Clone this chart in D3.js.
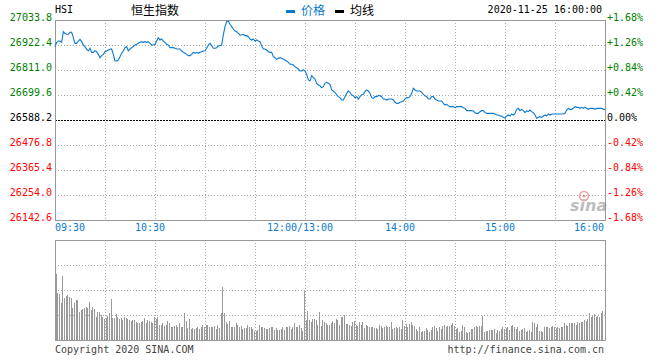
<!DOCTYPE html>
<html><head><meta charset="utf-8">
<script src="https://cdn.jsdelivr.net/npm/d3@7"></script>
<style>body{margin:0;background:#fff}svg{display:block}</style>
</head><body>
<svg id="c" width="660" height="360"></svg>
<script>
const prevClose = 26588.2;
const priceTicks = [27033.8, 26922.4, 26811.0, 26699.6, 26588.2, 26476.8, 26365.4, 26254.0, 26142.6];
const priceTickLabels = ["27033.8","26922.4","26811.0","26699.6","26588.2","26476.8","26365.4","26254.0","26142.6"];
const pctTickLabels = ["+1.68%","+1.26%","+0.84%","+0.42%","0.00%","-0.42%","-0.84%","-1.26%","-1.68%"];
const timeLabels = ["09:30","10:30","12:00/13:00","14:00","15:00","16:00"];
const timeLabelMinutes = [0, 60, 150, 210, 270, 330];
const gridMinutes = [30, 60, 90, 120, 150, 180, 210, 240, 270, 300];

// minute-by-minute index price (0 = 09:30, 150 = 12:00/13:00, 330 = 16:00)
const pricesMorning = [
26915.0,26934.3,26940.2,26940.2,26934.3,26981.8,26974.4,26970.0,26970.0,26978.9,
26978.9,26955.1,26929.8,26929.8,26940.2,26947.7,26937.3,26922.4,26915.0,26903.1,
26895.7,26907.6,26889.7,26889.7,26897.2,26892.7,26880.8,26866.0,26874.9,26880.8,
26892.7,26895.7,26900.1,26903.1,26904.6,26880.8,26851.1,26851.1,26855.6,26870.4,
26885.3,26895.7,26910.5,26915.0,26895.7,26904.6,26910.5,26915.0,26922.4,26925.4,
26929.8,26934.3,26937.3,26934.3,26937.3,26934.3,26937.3,26929.8,26922.4,26922.4,
26925.4,26940.2,26955.1,26944.7,26949.2,26940.2,26934.3,26925.4,26922.4,26910.5,
26910.5,26910.5,26907.6,26904.6,26904.6,26904.6,26895.7,26889.7,26885.3,26880.8,
26874.9,26874.9,26880.8,26889.7,
26885.3,26889.7,26885.3,26889.7,26892.7,26895.7,26895.7,26907.6,26922.4,26929.8,
26919.5,26907.6,26907.6,26910.5,26918.0,26919.5,26922.4,26967.0,27004.1,27026.4,
27029.4,27014.5,27004.1,26993.7,26984.8,26981.8,26974.4,26967.0,26967.0,26970.0,
26964.0,26964.0,26959.6,26949.2,26944.7,26949.2,26940.2,26944.7,26940.2,26937.3,
26919.5,26904.6,26904.6,26900.1,26892.7,26889.7,26889.7,26870.4,26866.0,26858.6,
26863.0,26866.0,26863.0,26858.6,26855.6,26851.1,26845.2,26836.3,26836.3,26833.3,
26825.9,26821.4,26815.5,26806.6,26806.6,26811.0,26806.6
];
const pricesAfternoon = [
26791.7,26766.5,26762.0,26785.8,26776.9,26770.9,26751.6,26744.2,26741.2,26732.3,
26736.8,26751.6,26756.1,26751.6,
26747.1,26721.9,26717.4,26711.5,26699.6,26692.2,26687.7,26677.3,26677.3,26692.2,
26707.0,26717.4,26711.5,26699.6,26696.6,26687.7,26692.2,26681.8,26692.2,26699.6,
26702.6,26714.4,26721.9,26717.4,26707.0,26687.7,26684.7,26692.2,26692.2,26696.6,
26696.6,26692.2,26681.8,26681.8,26677.3,26681.8,26681.8,26681.8,26677.3,26666.9,
26662.4,26662.4,26666.9,26669.9,26672.8,26681.8,26687.7,26687.7,26692.2,26707.0,
26729.3,26721.9,26717.4,26717.4,26717.4,26711.5,26702.6,26696.6,26692.2,26681.8,
26681.8,26692.2,26692.2,26681.8,26677.3,26672.8,26672.8,26672.8,26662.4,26655.0,
26658.0,26652.1,26647.6,26647.6,26647.6,26643.1,26647.6,26647.6,26647.6,26647.6,
26643.1,26640.2,
26629.8,26629.8,26629.8,26629.8,26628.3,26620.9,26617.9,26617.9,26625.3,26629.8,
26629.8,26620.9,26617.9,26617.9,26617.9,26617.9,26617.9,26614.9,26610.5,26610.5,
26606.0,26606.0,26600.1,26595.6,26606.0,26610.5,26606.0,26614.9,26610.5,26617.9,
26635.7,26640.2,26629.8,26635.7,26629.8,26620.9,26629.8,26625.3,26632.8,26625.3,
26620.9,26610.5,26595.6,26600.1,26603.1,26600.1,26606.0,26610.5,26606.0,26614.9,
26610.5,26614.9,26614.9,26614.9,26614.9,26614.9,26614.9,26614.9,26614.9,26617.9,
26632.8,26640.2,26635.7,26635.7,26640.2,26647.6,26644.6,26644.6,26640.2,26644.6,
26640.2,26644.6,26640.2,26635.7,26640.2,26640.2,26640.2,26635.7,26640.2,26640.2,
26640.2,26640.2,26635.7,26635.7
];
const prices = pricesMorning.concat(pricesAfternoon);

// per-minute volume (relative units)
const volumes = [
66,47,46,37,64,42,44,45,43,42,32,37,40,40,28,30,31,32,33,32,38,30,33,31,23,28,28,25,23,
21,22,24,27,41,22,22,26,23,21,22,20,23,22,21,20,19,20,20,18,17,17,18,19,22,17,20,19,18,17,
23,21,23,15,15,17,14,15,19,17,13,13,14,15,13,17,13,13,27,19,12,21,11,12,11,12,13,11,13,15,
13,15,15,13,13,13,14,11,15,12,27,53,27,18,16,19,13,13,13,17,15,13,14,11,12,12,15,13,13,11,
9,9,10,15,13,13,12,11,11,12,13,13,10,12,10,10,11,13,10,13,13,14,11,13,17,13,13,15,12,9,
49,20,29,20,18,21,21,20,15,28,14,20,18,17,15,
15,17,19,17,21,20,15,23,23,25,16,16,15,14,18,19,15,14,18,15,18,12,15,14,13,13,13,12,12,11,
15,14,12,13,14,13,13,18,11,12,13,12,13,11,20,14,16,13,16,18,15,14,11,9,13,8,9,9,12,10,
8,10,13,14,12,9,13,11,14,15,13,14,14,15,17,14,11,12,8,9,15,13,8,7,8,11,11,13,14,13,
14,14,24,8,9,9,10,10,10,11,7,10,9,11,13,11,12,13,10,14,15,13,11,13,9,10,11,12,8,9,
10,8,18,17,13,16,9,9,8,13,13,13,12,13,14,13,12,13,12,13,13,17,15,14,17,17,17,17,15,18,
17,18,18,20,19,21,27,23,24,26,23,24,23,27,29
];
const volumeGrid = [25, 50, 75];

const svg = d3.select("#c");
const mono = "'DejaVu Sans Mono', 'Liberation Mono', monospace";
const L = 55, R = 605, T = 20, B = 220, VT = 240, VB = 340;

const x = d3.scaleLinear().domain([0, 330]).range([L, R]);
const y = d3.scaleLinear().domain([26142.6, 27033.8]).range([B, T]);
const yv = d3.scaleLinear().domain([0, 100]).range([VB, VT]);

const colorOf = v => v > prevClose + 0.01 ? "#008000" : (v < prevClose - 0.01 ? "#ff0000" : "#000");

// grid - price panel
const g = svg.append("g").attr("shape-rendering", "crispEdges");
g.selectAll(".hg").data(priceTicks.filter(v => v !== prevClose && v !== 27033.8 && v !== 26142.6))
  .join("line").attr("x1", L).attr("x2", R)
  .attr("y1", d => Math.round(y(d)) + 0.5).attr("y2", d => Math.round(y(d)) + 0.5)
  .attr("stroke", "#aaa").attr("stroke-dasharray", "1,2");
g.selectAll(".vg").data(gridMinutes).join("line")
  .attr("x1", d => Math.round(x(d)) + 0.5).attr("x2", d => Math.round(x(d)) + 0.5)
  .attr("y1", T).attr("y2", B).attr("stroke", "#aaa").attr("stroke-dasharray", "1,2");
// prev close dashed
g.append("line").attr("x1", L).attr("x2", R)
  .attr("y1", Math.round(y(prevClose)) + 0.5).attr("y2", Math.round(y(prevClose)) + 0.5)
  .attr("stroke", "#000").attr("stroke-dasharray", "2,1");
g.append("rect").attr("x", L + 0.5).attr("y", T + 0.5).attr("width", R - L).attr("height", B - T)
  .attr("fill", "none").attr("stroke", "#999");

// grid - volume panel
g.selectAll(".vhg").data(volumeGrid).join("line").attr("x1", L).attr("x2", R)
  .attr("y1", d => Math.round(yv(d)) + 0.5).attr("y2", d => Math.round(yv(d)) + 0.5)
  .attr("stroke", "#aaa").attr("stroke-dasharray", "1,2");
g.selectAll(".vvg").data(gridMinutes).join("line")
  .attr("x1", d => Math.round(x(d)) + 0.5).attr("x2", d => Math.round(x(d)) + 0.5)
  .attr("y1", VT).attr("y2", VB).attr("stroke", "#aaa").attr("stroke-dasharray", "1,2");

// volume bars
svg.append("g").attr("shape-rendering", "crispEdges").selectAll("rect").data(volumes).join("rect")
  .attr("x", (d, i) => Math.round(x(i + 1)) - 1).attr("width", 1)
  .attr("y", d => Math.round(yv(d))).attr("height", d => VB - Math.round(yv(d)))
  .attr("fill", "#999");
g.append("rect").attr("x", L + 0.5).attr("y", VT + 0.5).attr("width", R - L).attr("height", VB - VT)
  .attr("fill", "none").attr("stroke", "#999");

// sina watermark
const wm = svg.append("g").attr("opacity", 0.55);
wm.append("circle").attr("cx", 584).attr("cy", 196).attr("r", 4.5).attr("fill", "none").attr("stroke", "#e05050").attr("stroke-width", 1.5);
wm.append("circle").attr("cx", 584).attr("cy", 196).attr("r", 1.5).attr("fill", "#e05050");
wm.append("text").attr("x", 570).attr("y", 211).attr("font-family", "'DejaVu Sans', sans-serif")
  .attr("font-size", 16).attr("font-weight", "bold").attr("font-style", "italic").attr("fill", "#888").text("sina");

// price line
const line = d3.line().x((d, i) => x(i)).y(d => y(d));
svg.append("path").datum(prices).attr("d", line).attr("fill", "none")
  .attr("stroke", "#0a7ad0").attr("stroke-width", 1.1).attr("stroke-linejoin", "miter");

// left axis labels
svg.append("g").selectAll("text").data(priceTicks).join("text")
  .attr("x", 52).attr("y", d => y(d) + 1).attr("text-anchor", "end")
  .attr("font-family", mono).attr("font-size", 10).attr("fill", colorOf)
  .text((d, i) => priceTickLabels[i]);
// right axis labels
svg.append("g").selectAll("text").data(priceTicks).join("text")
  .attr("x", 607).attr("y", d => y(d) + 1).attr("text-anchor", "start")
  .attr("font-family", mono).attr("font-size", 10).attr("fill", colorOf)
  .text((d, i) => pctTickLabels[i]);

// time labels
svg.append("g").selectAll("text").data(timeLabelMinutes).join("text")
  .attr("x", (d, i) => i === 0 ? x(d) : (i === timeLabels.length - 1 ? x(d) - 1 : x(d) - 5))
  .attr("y", 231)
  .attr("text-anchor", (d, i) => i === 0 ? "start" : (i === timeLabels.length - 1 ? "end" : "middle"))
  .attr("font-family", mono).attr("font-size", 10).attr("fill", "#0a7ad0")
  .text((d, i) => timeLabels[i]);

// header
svg.append("text").attr("x", 55).attr("y", 13).attr("font-family", mono).attr("font-size", 10).attr("fill", "#000").text("HSI");
svg.append("text").attr("x", 131).attr("y", 15).attr("font-family", "'Noto Sans CJK SC', sans-serif").attr("font-size", 12).attr("fill", "#000").text("恒生指数");
svg.append("rect").attr("x", 286).attr("y", 10).attr("width", 9).attr("height", 3).attr("fill", "#0a7ad0");
svg.append("text").attr("x", 301).attr("y", 15).attr("font-family", "'Noto Sans CJK SC', sans-serif").attr("font-size", 12).attr("fill", "#0a7ad0").text("价格");
svg.append("rect").attr("x", 335).attr("y", 10).attr("width", 9).attr("height", 3).attr("fill", "#000");
svg.append("text").attr("x", 350).attr("y", 15).attr("font-family", "'Noto Sans CJK SC', sans-serif").attr("font-size", 12).attr("fill", "#000").text("均线");
svg.append("text").attr("x", 602).attr("y", 13).attr("text-anchor", "end").attr("font-family", mono).attr("font-size", 10).attr("fill", "#000").text("2020-11-25 16:00:00");

// footer
svg.append("text").attr("x", 55).attr("y", 353).attr("font-family", mono).attr("font-size", 10).attr("fill", "#444").text("Copyright 2020 SINA.COM");
svg.append("text").attr("x", 604).attr("y", 353).attr("text-anchor", "end").attr("font-family", mono).attr("font-size", 10).attr("fill", "#444").text("http://finance.sina.com.cn");
</script>
</body></html>
